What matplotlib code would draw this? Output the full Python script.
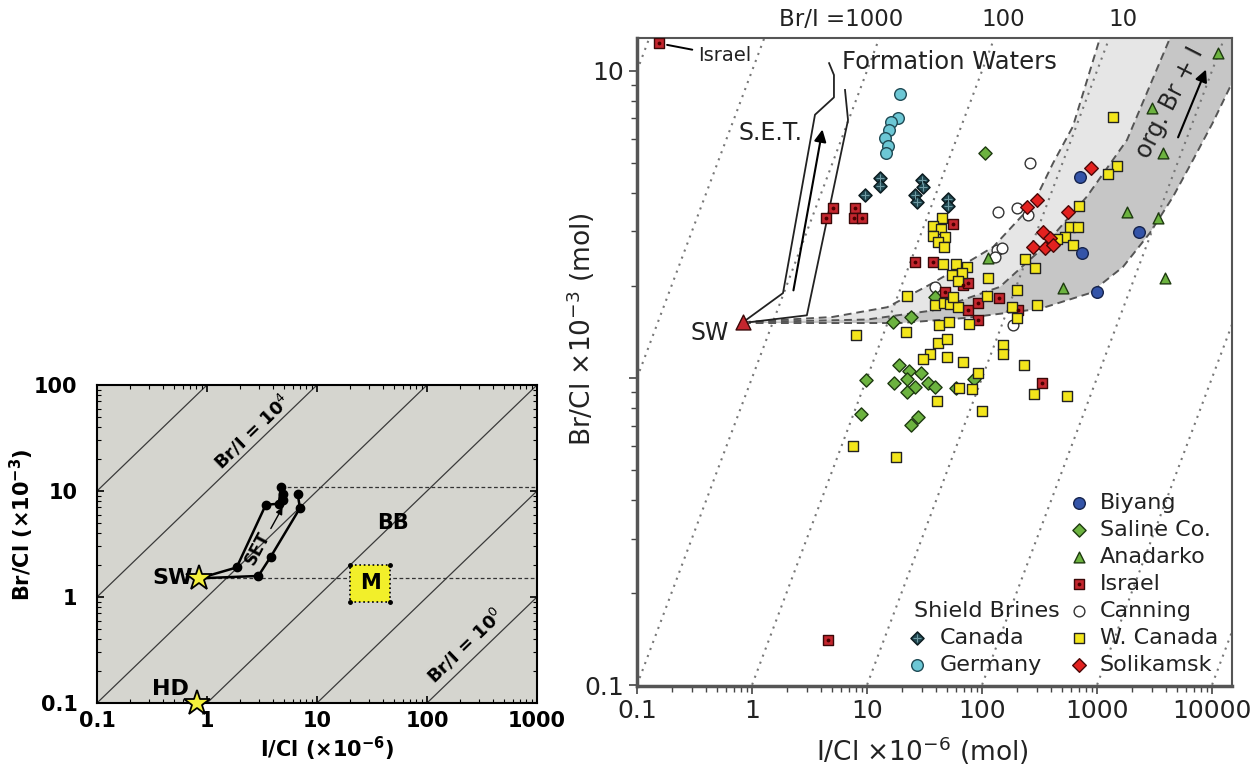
import numpy as np
import matplotlib
matplotlib.use('Agg')
import matplotlib.pyplot as plt
from matplotlib.patches import Rectangle

plt.rcParams['font.family'] = ['DejaVu Sans']
plt.rcParams['mathtext.fontset'] = 'dejavusans'

# ---------------- Left panel data ----------------
L_xticks = [0.1, 1, 10, 100, 1000]
L_yticks = [0.1, 1, 10, 100]
L_ratio_lines = [1, 10, 100, 1000, 1e4, 1e5]          # Br/I ratios
L_sw = (0.85, 1.5)
L_hd = (0.81, 0.1)
L_set_a_x = [0.85, 1.86, 3.42, 4.5, 4.68, 4.9, 4.9]
L_set_a_y = [1.5, 1.9, 7.4, 7.6, 10.8, 9.4, 8.3]
L_set_b_x = [0.85, 2.93, 3.8, 7.0, 6.67]
L_set_b_y = [1.5, 1.58, 2.4, 6.9, 9.4]
L_m_x = [20, 46]
L_m_y = [0.9, 2.0]
L_dash_y = [10.8, 1.5]
L_dash_x0 = [4.68, 0.85]

# ---------------- Right panel data ----------------
R_xlim = (0.1, 14930)
R_ylim = (0.0993, 12.8)
R_ratio_lines = [0.01, 0.1, 1, 10, 100, 1000, 1e4, 1e5]
R_top_labels = ['Br/I =1000', '100', '10']
R_sw = (0.836, 1.52)

biyang_x = [711, 741, 2317, 1000]
biyang_y = [4.52, 2.55, 2.99, 1.91]

saline_x = [106, 24.2, 16.8, 19.0, 23.2, 22.3, 17.2, 26.1, 22.3, 33.9, 39.0, 29.5, 9.8, 8.87,
            24.2, 27.7, 59.4, 85.2, 39.0]
saline_y = [5.41, 1.58, 1.52, 1.10, 1.05, 0.993, 0.964, 0.935, 0.90, 0.964, 0.935, 1.04, 0.985,
            0.764, 0.703, 0.746, 0.927, 0.993, 1.84]

anadarko_x = [11270, 3006, 3750, 1824, 3390, 3900, 506, 113]
anadarko_y = [11.4, 7.57, 5.41, 3.47, 3.32, 2.12, 1.96, 2.46]

israel_x = [0.155, 5.06, 4.39, 7.87, 7.71, 9.06, 56, 26.1, 37.5, 47.7, 68.4, 75.6, 75.6, 92.3,
            92.3, 140, 206, 333, 4.58]
israel_y = [12.3, 3.58, 3.32, 3.58, 3.32, 3.32, 3.18, 2.39, 2.39, 1.91, 2.01, 2.04, 1.66, 1.75,
            1.55, 1.82, 1.66, 0.964, 0.14]

canning_x = [261, 138, 201, 251, 135, 149, 130, 39, 186]
canning_y = [5.01, 3.47, 3.58, 3.40, 2.61, 2.65, 2.48, 1.98, 1.49]

wcanada_x = [1377, 1493, 1247, 697, 582, 684, 527, 449, 618, 237, 289, 113, 110, 201, 301, 182,
             201, 44.9, 37.5, 44.0, 37.5, 47.7, 41.4, 46.7, 45.8, 59.4, 74.1, 54.8, 67.0, 61.8,
             22.3, 39.0, 46.7, 52.7, 61.8, 42.3, 51.6, 77.1, 21.8, 8.02, 41.4, 49.6, 35.3, 30.7,
             49.6, 68.4, 152, 152, 232, 92.3, 63.1, 81.8, 40.6, 100, 283, 548, 7.55, 17.9, 56]
wcanada_y = [7.08, 4.91, 4.62, 3.63, 3.10, 3.10, 2.88, 2.84, 2.71, 2.44, 2.28, 2.12, 1.85, 1.94,
             1.73, 1.70, 1.57, 3.32, 3.13, 3.06, 2.90, 2.88, 2.77, 2.67, 2.35, 2.35, 2.30, 2.17,
             2.20, 2.07, 1.85, 1.73, 1.75, 1.74, 1.70, 1.49, 1.52, 1.50, 1.41, 1.38, 1.30, 1.34,
             1.20, 1.15, 1.17, 1.13, 1.28, 1.20, 1.10, 1.04, 0.927, 0.920, 0.841, 0.781, 0.887,
             0.873, 0.601, 0.553, 1.84]

solikamsk_x = [887, 301, 246, 560, 339, 390, 277, 353, 414]
solikamsk_y = [4.83, 3.80, 3.61, 3.47, 2.99, 2.86, 2.67, 2.65, 2.71]

canada_x = [13.0, 13.0, 9.6, 30, 30.7, 26.1, 27.2, 50.6, 50.6]
canada_y = [4.48, 4.22, 3.94, 4.41, 4.19, 3.94, 3.74, 3.83, 3.63]

germany_x = [19.4, 18.6, 16.2, 15.5, 14.3, 15.2, 14.6]
germany_y = [8.4, 7.0, 6.8, 6.4, 6.05, 5.7, 5.4]

# formation-water field boundaries (org. Br + I bands)
band_up_x = [0.836, 5, 15, 37.5, 125, 280, 414, 618, 1062]
band_up_y = [1.52, 1.58, 1.70, 2.04, 2.67, 3.7, 5.0, 6.6, 12.8]
band_mid_x = [0.836, 10, 37.5, 143, 319, 818, 1824, 4315]
band_mid_y = [1.52, 1.55, 1.66, 1.98, 2.6, 3.9, 5.96, 12.8]
band_low_x = [0.836, 19.4, 74, 319, 869, 1683, 2890, 4580, 6839, 10200, 14930]
band_low_y = [1.51, 1.51, 1.57, 1.68, 1.89, 2.30, 2.97, 3.89, 5.13, 6.8, 9.14]

# S.E.T. envelope
set_left_x = [4.68, 5.16, 5.16, 3.53, 1.86, 0.836]
set_left_y = [10.6, 9.7, 8.2, 7.2, 1.89, 1.52]
set_right_x = [6.44, 6.84, 3.0, 0.96]
set_right_y = [8.67, 6.92, 1.60, 1.52]

# ---------------- Figure ----------------
fig = plt.figure(figsize=(12.58, 7.68), dpi=100)

# ======== Left panel ========
axL = fig.add_axes([97/1258, 65/768, 440/1258, 318/768])
axL.set_xscale('log'); axL.set_yscale('log')
axL.set_xlim(0.1, 1000); axL.set_ylim(0.1, 100)
axL.set_facecolor('#d5d5cf')
xs = np.array([0.1, 1000])
for r in L_ratio_lines:
    axL.plot(xs, r * xs / 1000, color='#3a3a3a', lw=0.9, zorder=1)
for yv, x0 in zip(L_dash_y, L_dash_x0):
    axL.plot([x0, 1000], [yv, yv], color='#333333', lw=0.9, ls=(0, (3, 2)), zorder=2)
axL.plot(L_set_a_x, L_set_a_y, color='black', lw=1.8, marker='o', ms=6, zorder=4)
axL.plot(L_set_b_x, L_set_b_y, color='black', lw=1.8, marker='o', ms=6, zorder=4)
axL.add_patch(Rectangle((L_m_x[0], L_m_y[0]), L_m_x[1] - L_m_x[0], L_m_y[1] - L_m_y[0],
                        facecolor='#f2ef2a', edgecolor='black', lw=1.2, ls=':', zorder=3))
axL.plot([L_m_x[0], L_m_x[1], L_m_x[1], L_m_x[0]], [L_m_y[0], L_m_y[0], L_m_y[1], L_m_y[1]],
         ls='none', marker='o', ms=2.5, color='black', zorder=4)
axL.text(np.sqrt(L_m_x[0] * L_m_x[1]), np.sqrt(L_m_y[0] * L_m_y[1]), 'M', ha='center',
         va='center', fontsize=15, fontweight='bold', zorder=5)
axL.plot(*L_sw, marker='*', ms=19, mfc='#f3ef3c', mec='black', mew=1.3, zorder=6, clip_on=False)
axL.plot(*L_hd, marker='*', ms=19, mfc='#f3ef3c', mec='black', mew=1.3, zorder=6, clip_on=False)
axL.annotate('SW', L_sw, xytext=(-19, 0), textcoords='offset points', ha='center', va='center',
             fontsize=16, fontweight='bold')
axL.annotate('HD', L_hd, xytext=(-19, 10), textcoords='offset points', ha='center', va='center',
             fontsize=16, fontweight='bold')
axL.text(49, 5.0, 'BB', ha='center', va='center', fontsize=15, fontweight='bold')
axL.text(2.85, 2.9, 'SET', rotation=62, ha='center', va='center', fontsize=12, fontweight='bold')
axL.annotate('', xy=(5.0, 7.4), xytext=(3.7, 4.2),
             arrowprops=dict(arrowstyle='-|>', color='black', lw=1.0, mutation_scale=10))
axL.text(2.56, 36, r'Br/I = 10$^{4}$', rotation=44, ha='center', va='center', fontsize=13,
         fontweight='bold', rotation_mode='anchor')
axL.text(221, 0.345, r'Br/I = 10$^{0}$', rotation=44, ha='center', va='center', fontsize=13,
         fontweight='bold', rotation_mode='anchor')
axL.set_xticks(L_xticks); axL.set_xticklabels(['0.1', '1', '10', '100', '1000'])
axL.set_yticks(L_yticks); axL.set_yticklabels(['0.1', '1', '10', '100'])
axL.tick_params(which='both', direction='in', top=True, right=True, labelsize=15)
axL.tick_params(axis='y', which='major', pad=14)
axL.tick_params(axis='x', which='major', pad=6)
axL.tick_params(which='major', length=5, width=1.2)
axL.tick_params(which='minor', length=3, width=0.8)
for lab in axL.get_xticklabels() + axL.get_yticklabels():
    lab.set_fontweight('bold')
for s in axL.spines.values():
    s.set_linewidth(1.5)
axL.set_xlabel(r'I/Cl (×10$^{\mathbf{-6}}$)', fontsize=15, fontweight='bold')
axL.set_ylabel(r'Br/Cl (×10$^{\mathbf{-3}}$)', fontsize=15, fontweight='bold')
axL.xaxis.set_label_coords(0.523, -0.10)
axL.yaxis.set_label_coords(-0.138, 0.56)

# ======== Right panel ========
ax = fig.add_axes([637/1258, 82/768, 595/1258, 648/768])
ax.set_xscale('log'); ax.set_yscale('log')
ax.set_xlim(*R_xlim); ax.set_ylim(*R_ylim)

# bands
light_x = band_up_x + [band_mid_x[-1]] + band_mid_x[::-1]
light_y = band_up_y + [band_mid_y[-1]] + band_mid_y[::-1]
ax.fill(light_x, light_y, color='#e6e6e6', lw=0, zorder=0.5)
dark_x = band_mid_x + [R_xlim[1]] + band_low_x[::-1]
dark_y = band_mid_y + [R_ylim[1]] + band_low_y[::-1]
ax.fill(dark_x, dark_y, color='#c6c6c6', lw=0, zorder=0.6)
for cx, cy in [(band_up_x, band_up_y), (band_mid_x, band_mid_y), (band_low_x, band_low_y)]:
    ax.plot(cx, cy, color='#555555', lw=1.4, ls=(0, (4, 2.5)), zorder=1)

xr = np.array(R_xlim)
for r in R_ratio_lines:
    ax.plot(xr, r * xr / 1000, color='#777777', lw=1.5, ls=(0, (1, 2.6)), zorder=0.8)

# S.E.T. envelope
ax.plot(set_left_x, set_left_y, color='#222222', lw=1.3, zorder=2)
ax.plot(set_right_x, set_right_y, color='#222222', lw=1.3, zorder=2)
ax.annotate('', xy=(4.14, 6.58), xytext=(2.27, 1.89),
            arrowprops=dict(arrowstyle='-|>', color='black', lw=1.5, mutation_scale=18))
ax.text(1.46, 6.3, 'S.E.T.', ha='center', va='center', fontsize=17, color='#222222')
ax.text(6.06, 10.7, 'Formation Waters', ha='left', va='center', fontsize=17.5, color='#222222')
ax.text(4315, 7.87, 'org. Br + I', rotation=63, ha='center', va='center', fontsize=17,
        color='#222222')
ax.annotate('', xy=(9057, 10.3), xytext=(4966, 5.96),
            arrowprops=dict(arrowstyle='-|>', color='black', lw=1.5, mutation_scale=18))

mk = dict(zorder=5, linewidths=1.0)
ax.scatter(canning_x, canning_y, marker='o', s=60, facecolor='white', edgecolor='#333333', **mk)
ax.scatter(saline_x, saline_y, marker='D', s=45, facecolor='#6cb33f', edgecolor='#1e3a10', **mk)
ax.scatter(israel_x, israel_y, marker='s', s=55, facecolor='#c4262e', edgecolor='#3a0808', **mk)
ax.scatter(israel_x, israel_y, marker='o', s=3, color='#4a0000', zorder=5.1)
ax.scatter(wcanada_x, wcanada_y, marker='s', s=60, facecolor='#f3e61b', edgecolor='#222222', **mk)
ax.scatter(solikamsk_x, solikamsk_y, marker='D', s=48, facecolor='#e3211f', edgecolor='#4a0808', **mk)
ax.scatter(biyang_x, biyang_y, marker='o', s=70, facecolor='#3454a8', edgecolor='#16244d', **mk)
ax.scatter(anadarko_x, anadarko_y, marker='^', s=60, facecolor='#6cb33f', edgecolor='#1e3a10', **mk)
ax.scatter(canada_x, canada_y, marker='D', s=45, facecolor='#1f4750', edgecolor='#0b1a1e', **mk)
ax.scatter(canada_x, canada_y, marker='+', s=30, color='#6f9aa3', linewidths=0.8, zorder=5.1)
ax.scatter(germany_x, germany_y, marker='o', s=70, facecolor='#6cc7d5', edgecolor='#1f4a55', **mk)
ax.scatter([R_sw[0]], [R_sw[1]], marker='^', s=115, facecolor='#c4262e', edgecolor='#3a0808',
           zorder=6, linewidths=1.0)
ax.annotate('SW', R_sw, xytext=(-24, -8), textcoords='offset points', ha='center', va='center',
            fontsize=17, color='#222222')
ax.annotate('Israel', (israel_x[0], israel_y[0]), xytext=(28, -9), textcoords='offset points',
            ha='left', va='center', fontsize=14, color='#222222',
            arrowprops=dict(arrowstyle='-', color='black', lw=1.4, shrinkA=2, shrinkB=6))

# top ratio labels
ax.text(20.6, 1.028, R_top_labels[0], transform=ax.get_xaxis_transform(), ha='right',
        va='center', fontsize=16.5, color='#222222', clip_on=False)
ax.text(152, 1.028, R_top_labels[1], transform=ax.get_xaxis_transform(), ha='center',
        va='center', fontsize=16.5, color='#222222', clip_on=False)
ax.text(1683, 1.028, R_top_labels[2], transform=ax.get_xaxis_transform(), ha='center',
        va='center', fontsize=16.5, color='#222222', clip_on=False)

# legend (manual)
leg_right = [
    ('Biyang', dict(marker='o', s=70, facecolor='#3454a8', edgecolor='#16244d')),
    ('Saline Co.', dict(marker='D', s=45, facecolor='#6cb33f', edgecolor='#1e3a10')),
    ('Anadarko', dict(marker='^', s=60, facecolor='#6cb33f', edgecolor='#1e3a10')),
    ('Israel', dict(marker='s', s=55, facecolor='#c4262e', edgecolor='#3a0808')),
    ('Canning', dict(marker='o', s=60, facecolor='white', edgecolor='#333333')),
    ('W. Canada', dict(marker='s', s=60, facecolor='#f3e61b', edgecolor='#222222')),
    ('Solikamsk', dict(marker='D', s=48, facecolor='#e3211f', edgecolor='#4a0808')),
]
row_y = [(686 - py) / 648 for py in [503, 530, 557, 584, 611, 638, 665]]
for (lab, st), yy in zip(leg_right, row_y):
    ax.scatter([0.743], [yy], transform=ax.transAxes, zorder=7, linewidths=1.0, clip_on=False, **st)
    ax.text(0.778, yy, lab, transform=ax.transAxes, ha='left', va='center', fontsize=16,
            color='#222222')
ax.scatter([0.743], [row_y[3]], transform=ax.transAxes, marker='o', s=3, color='#4a0000', zorder=8)
ax.text(0.466, row_y[4], 'Shield Brines', transform=ax.transAxes, ha='left', va='center',
        fontsize=16, color='#222222')
ax.scatter([0.471], [row_y[5]], transform=ax.transAxes, marker='D', s=45, facecolor='#1f4750',
           edgecolor='#0b1a1e', zorder=7, linewidths=1.0)
ax.scatter([0.471], [row_y[5]], transform=ax.transAxes, marker='+', s=30, color='#6f9aa3',
           linewidths=0.8, zorder=8)
ax.text(0.509, row_y[5], 'Canada', transform=ax.transAxes, ha='left', va='center', fontsize=16,
        color='#222222')
ax.scatter([0.471], [row_y[6]], transform=ax.transAxes, marker='o', s=70, facecolor='#6cc7d5',
           edgecolor='#1f4a55', zorder=7, linewidths=1.0)
ax.text(0.509, row_y[6], 'Germany', transform=ax.transAxes, ha='left', va='center', fontsize=16,
        color='#222222')

ax.set_xticks([0.1, 1, 10, 100, 1000, 10000])
ax.set_xticklabels(['0.1', '1', '10', '100', '1000', '10000'])
ax.set_yticks([0.1, 1, 10]); ax.set_yticklabels(['0.1', '', '10'])
ax.tick_params(which='both', direction='out', labelsize=18, colors='#444444', labelcolor='#222222')
ax.tick_params(which='major', length=6, width=1.2)
ax.tick_params(which='minor', length=4, width=1.0)
for side in ['left', 'bottom']:
    ax.spines[side].set_linewidth(2.5); ax.spines[side].set_color('#555555')
for side in ['top', 'right']:
    ax.spines[side].set_linewidth(1.5); ax.spines[side].set_color('#555555')
ax.set_xlabel(r'I/Cl ×10$^{-6}$ (mol)', fontsize=19, color='#222222')
ax.set_ylabel(r'Br/Cl ×10$^{-3}$ (mol)', fontsize=19, color='#222222')
ax.xaxis.set_label_coords(0.479, -0.075)
ax.yaxis.set_label_coords(-0.068, 0.55)

fig.savefig('out.png', dpi=100)
